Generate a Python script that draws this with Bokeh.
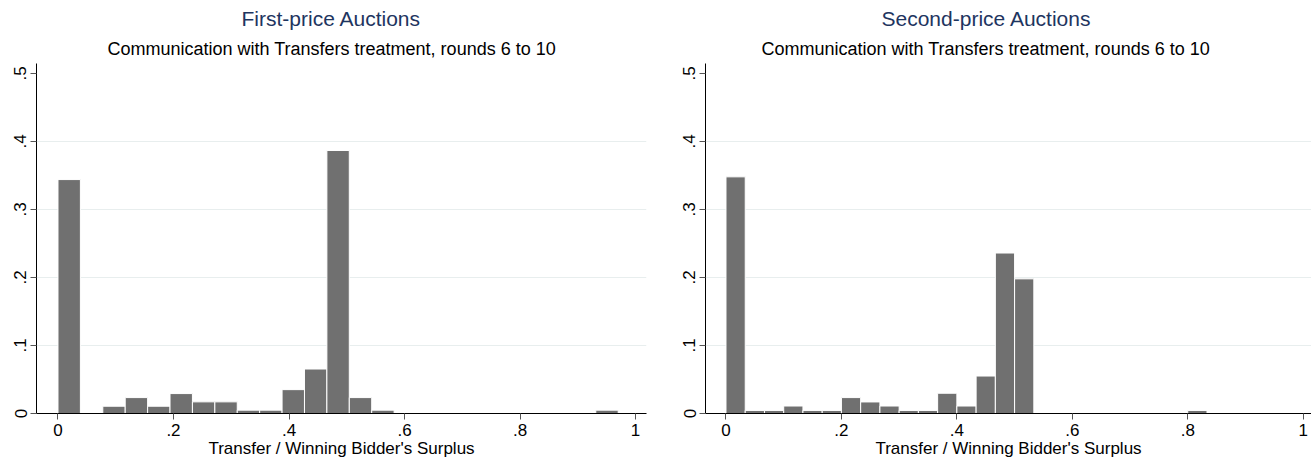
import numpy as np
from bokeh.plotting import figure
from bokeh.layouts import row
from bokeh.models import FixedTicker, CustomJSTickFormatter, Title, Range1d
from bokeh.embed import file_html
from bokeh.resources import INLINE

# ---- data (fractions per bin) ----
panel_titles = ["First-price Auctions", "Second-price Auctions"]
subtitle = "Communication with Transfers treatment, rounds 6 to 10"
x_label = "Transfer / Winning Bidder's Surplus"

fp_bin_start = 0.0
fp_bin_width = 0.0388
fp_fraction = [0.344, 0.0, 0.0107, 0.0234, 0.0107, 0.0293, 0.0171, 0.0171,
               0.0049, 0.0049, 0.0351, 0.0654, 0.3868, 0.0234, 0.0049,
               0.0, 0.0, 0.0, 0.0, 0.0, 0.0, 0.0, 0.0, 0.0, 0.0049]

sp_bin_start = 0.0
sp_bin_width = 1.0 / 30.0
sp_fraction = [0.348, 0.0045, 0.0045, 0.011, 0.0045, 0.0045, 0.0234, 0.017,
               0.011, 0.0045, 0.0045, 0.0298, 0.011, 0.0551, 0.236, 0.198,
               0.0, 0.0, 0.0, 0.0, 0.0, 0.0, 0.0, 0.0, 0.0045]

x_ticks = [0, 0.2, 0.4, 0.6, 0.8, 1.0]
y_ticks = [0, 0.1, 0.2, 0.3, 0.4, 0.5]
grid_ticks = [0.1, 0.2, 0.3, 0.4]

FONT = "Liberation Sans"
BAR = "#707070"
GRID = "#e8eeee"
TITLE_COLOR = "#1e3560"

fmt = CustomJSTickFormatter(code="""
    if (Math.abs(tick) < 1e-9) return "0";
    if (Math.abs(tick - 1) < 1e-9) return "1";
    return tick.toFixed(1).replace(/^0/, "");
""")


def make_panel(title, fractions, start, width, fig_w, xr, mb_left, mb_right,
               title_off, sub_off):
    p = figure(width=fig_w, height=464, output_backend="svg", toolbar_location=None,
               x_range=Range1d(*xr), y_range=Range1d(0, 0.5147),
               min_border_left=mb_left, min_border_right=mb_right,
               min_border_top=63, min_border_bottom=51)
    p.title.visible = False
    p.outline_line_color = None
    p.background_fill_color = "white"
    p.border_fill_color = "white"

    fr = np.array(fractions)
    idx = np.arange(len(fr))
    left = start + idx * width
    right = left + width
    keep = fr > 0
    p.quad(left=left[keep], right=right[keep], bottom=0, top=fr[keep],
           fill_color=BAR, line_color="white", line_width=1)

    # axes
    p.xaxis.ticker = FixedTicker(ticks=x_ticks)
    p.yaxis.ticker = FixedTicker(ticks=y_ticks)
    p.xaxis.formatter = fmt
    p.yaxis.formatter = fmt
    for ax in (p.xaxis, p.yaxis):
        ax.major_label_text_font = FONT
        ax.major_label_text_font_size = "17px"
        ax.major_label_text_color = "black"
        ax.axis_line_color = "black"
        ax.axis_line_width = 1
        ax.major_tick_line_color = "#555555"
        ax.major_tick_out = 6
        ax.major_tick_in = 0
        ax.minor_tick_line_color = None
    p.yaxis.major_label_orientation = "vertical"
    p.yaxis.major_label_standoff = 4
    p.xaxis.major_label_standoff = 4
    p.xaxis.axis_label = x_label
    p.xaxis.axis_label_text_font = FONT
    p.xaxis.axis_label_text_font_size = "17px"
    p.xaxis.axis_label_text_font_style = "normal"
    p.xaxis.axis_label_text_color = "black"
    p.xaxis.axis_label_standoff = 0

    p.xgrid.visible = False
    p.ygrid.ticker = FixedTicker(ticks=grid_ticks)
    p.ygrid.grid_line_color = GRID
    p.ygrid.grid_line_width = 1

    p.add_layout(Title(text=subtitle, align="left", text_font=FONT,
                       text_font_size="18px", text_font_style="normal",
                       text_color="black", standoff=9, offset=sub_off), "above")
    p.add_layout(Title(text=title, align="left", text_font=FONT,
                       text_font_size="21px", text_font_style="normal",
                       text_color=TITLE_COLOR, standoff=6, offset=title_off), "above")
    return p


p1 = make_panel(panel_titles[0], fp_fraction, fp_bin_start, fp_bin_width,
                655, (-0.0372, 1.019), 36, 9, 205, 71)
p2 = make_panel(panel_titles[1], sp_fraction, sp_bin_start, sp_bin_width,
                656, (-0.0355, 1.0144), 50, 0, 176, 56)

layout = row(p1, p2)
open("out.html", "w").write(file_html(layout, INLINE))
